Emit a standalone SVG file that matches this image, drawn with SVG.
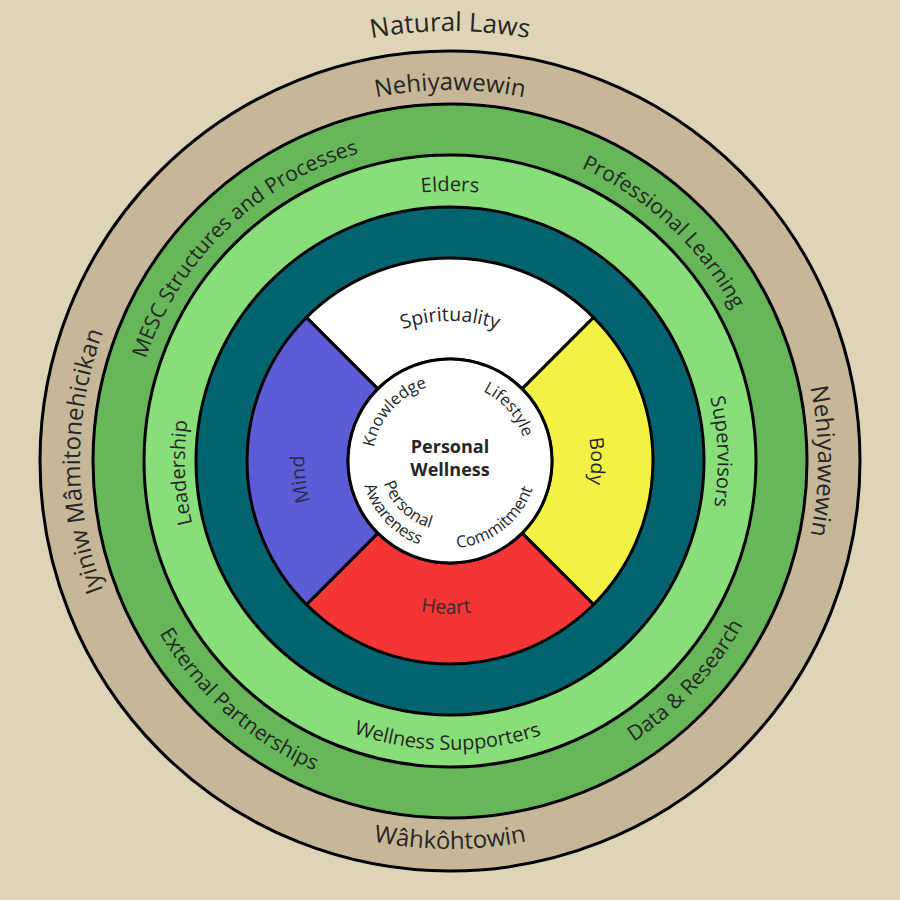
<svg xmlns="http://www.w3.org/2000/svg" width="900" height="900" viewBox="0 0 900 900">
<style>
  .ln{stroke:#000;stroke-width:3}
  text{font-family:"Open Sans","Noto Sans","DejaVu Sans",sans-serif;fill:#262626}
  .f1{font-size:26px}
  .f2{font-size:24px}
  .f3{font-size:21px}
  .f4{font-size:20px}
  .f5{font-size:19.5px}
  .f6{font-size:16.5px}
  .ctr{font-size:18px;font-weight:bold;text-anchor:middle}
</style>
<defs>
  <path id="pNatural" d="M20,461 A430,430 0 0 1 880,461"/>
  <path id="pNehTop" d="M79,461 A371,371 0 0 1 821,461"/>
  <path id="pNehRight" d="M450,93 A368,368 0 0 1 450,829"/>
  <path id="pWahk" d="M62,461 A388,388 0 0 0 838,461"/>
  <path id="pIyiniw" d="M450,831 A370,370 0 0 1 450,91"/>
  <path id="pMESC" d="M219.1,684 A321,321 0 0 1 680.9,238"/>
  <path id="pProf" d="M215.2,242.1 A321,321 0 0 1 684.8,679.9"/>
  <path id="pData" d="M219.5,708.2 A338,338 0 0 0 680.5,213.8"/>
  <path id="pExt" d="M196.9,237 A338,338 0 0 0 703.2,685"/>
  <path id="pElders" d="M180,461 A270,270 0 0 1 720,461"/>
  <path id="pSup" d="M440.5,189.2 A272,272 0 0 1 459.5,732.8"/>
  <path id="pWell" d="M161,458.5 A289,289 0 0 0 739,463.5"/>
  <path id="pLead" d="M461.8,730.7 A270,270 0 0 1 438.2,191.3"/>
  <path id="pSpir" d="M310,461 A140,140 0 0 1 590,461"/>
  <path id="pBody" d="M450,320 A141,141 0 0 1 450,602"/>
  <path id="pHeart" d="M297,457 A153,153 0 0 0 603,465"/>
  <path id="pMind" d="M467.9,606.9 A147,147 0 0 1 432.1,315.1"/>
  <path id="pKnow" d="M398.3,519.4 A78,78 0 0 1 501.7,402.6"/>
  <path id="pLife" d="M399.2,403.1 A77,77 0 0 1 500.8,518.9"/>
  <path id="pComm" d="M381.4,514.6 A87,87 0 0 0 518.6,407.4"/>
  <path id="pPers" d="M399.6,412.4 A70,70 0 0 0 500.4,509.6"/>
  <path id="pAware" d="M389.3,395.9 A89,89 0 0 0 510.7,526.1"/>
</defs>
<rect width="900" height="900" fill="#DFD3B8"/>

<g id="ring-outer">
  <circle class="ln" cx="450" cy="461" r="410" fill="#C6B798"/>
</g>
<g id="ring-green">
  <circle class="ln" cx="450" cy="461" r="357" fill="#67B65A"/>
</g>
<g id="ring-lightgreen">
  <circle class="ln" cx="450" cy="461" r="306" fill="#88DE79"/>
</g>
<g id="ring-teal">
  <circle class="ln" cx="450" cy="461" r="254" fill="#02646E"/>
</g>

<g id="spirituality">
  <path class="ln" fill="#FFFFFF" d="M306.46,317.46 A203,203 0 0 1 593.54,317.46 L522.12,388.88 A102,102 0 0 0 377.88,388.88 Z"/>
  <text class="f5"><textPath href="#pSpir" startOffset="50%" text-anchor="middle">Spirituality</textPath></text>
</g>
<g id="body">
  <path class="ln" fill="#F2F245" d="M593.54,317.46 A203,203 0 0 1 593.54,604.54 L522.12,533.12 A102,102 0 0 0 522.12,388.88 Z"/>
  <text class="f5"><textPath href="#pBody" startOffset="50%" text-anchor="middle">Body</textPath></text>
</g>
<g id="heart">
  <path class="ln" fill="#F53535" d="M593.54,604.54 A203,203 0 0 1 306.46,604.54 L377.88,533.12 A102,102 0 0 0 522.12,533.12 Z"/>
  <text class="f5" style="fill:#3a2a2a"><textPath href="#pHeart" startOffset="50%" text-anchor="middle">Heart</textPath></text>
</g>
<g id="mind">
  <path class="ln" fill="#5C5CD6" d="M306.46,604.54 A203,203 0 0 1 306.46,317.46 L377.88,388.88 A102,102 0 0 0 377.88,533.12 Z"/>
  <text class="f5" style="fill:#2a2a4a"><textPath href="#pMind" startOffset="50%" text-anchor="middle">Mind</textPath></text>
</g>

<g id="personal-wellness">
  <circle class="ln" cx="450" cy="461" r="102" fill="#FFFFFF"/>
  <text class="ctr" x="450" y="453">Personal</text>
  <text class="ctr" x="450" y="476">Wellness</text>
  <text class="f6"><textPath href="#pKnow" startOffset="50%" text-anchor="middle">Knowledge</textPath></text>
  <text class="f6"><textPath href="#pLife" startOffset="50%" text-anchor="middle">Lifestyle</textPath></text>
  <text class="f6"><textPath href="#pComm" startOffset="50%" text-anchor="middle">Commitment</textPath></text>
  <text class="f6"><textPath href="#pPers" startOffset="50%" text-anchor="middle">Personal</textPath></text>
  <text class="f6"><textPath href="#pAware" startOffset="50%" text-anchor="middle">Awareness</textPath></text>
</g>

<g id="labels-outer">
  <text class="f1"><textPath href="#pNatural" startOffset="50%" text-anchor="middle">Natural Laws</textPath></text>
  <text class="f2"><textPath href="#pNehTop" startOffset="50%" text-anchor="middle">Nehiyawewin</textPath></text>
  <text class="f2"><textPath href="#pNehRight" startOffset="50%" text-anchor="middle">Nehiyawewin</textPath></text>
  <text class="f2"><textPath href="#pWahk" startOffset="50%" text-anchor="middle">Wâhkôhtowin</textPath></text>
  <text class="f2"><textPath href="#pIyiniw" startOffset="50%" text-anchor="middle">Iyiniw Mâmitonehicikan</textPath></text>
</g>
<g id="labels-green">
  <text class="f3"><textPath href="#pMESC" startOffset="50%" text-anchor="middle">MESC Structures and Processes</textPath></text>
  <text class="f3"><textPath href="#pProf" startOffset="50%" text-anchor="middle">Professional Learning</textPath></text>
  <text class="f3"><textPath href="#pData" startOffset="50%" text-anchor="middle">Data &amp; Research</textPath></text>
  <text class="f3"><textPath href="#pExt" startOffset="50%" text-anchor="middle">External Partnerships</textPath></text>
</g>
<g id="labels-lightgreen">
  <text class="f4"><textPath href="#pElders" startOffset="50%" text-anchor="middle">Elders</textPath></text>
  <text class="f4"><textPath href="#pSup" startOffset="50%" text-anchor="middle">Supervisors</textPath></text>
  <text class="f4"><textPath href="#pWell" startOffset="50%" text-anchor="middle">Wellness Supporters</textPath></text>
  <text class="f4"><textPath href="#pLead" startOffset="50%" text-anchor="middle">Leadership</textPath></text>
</g>
</svg>
